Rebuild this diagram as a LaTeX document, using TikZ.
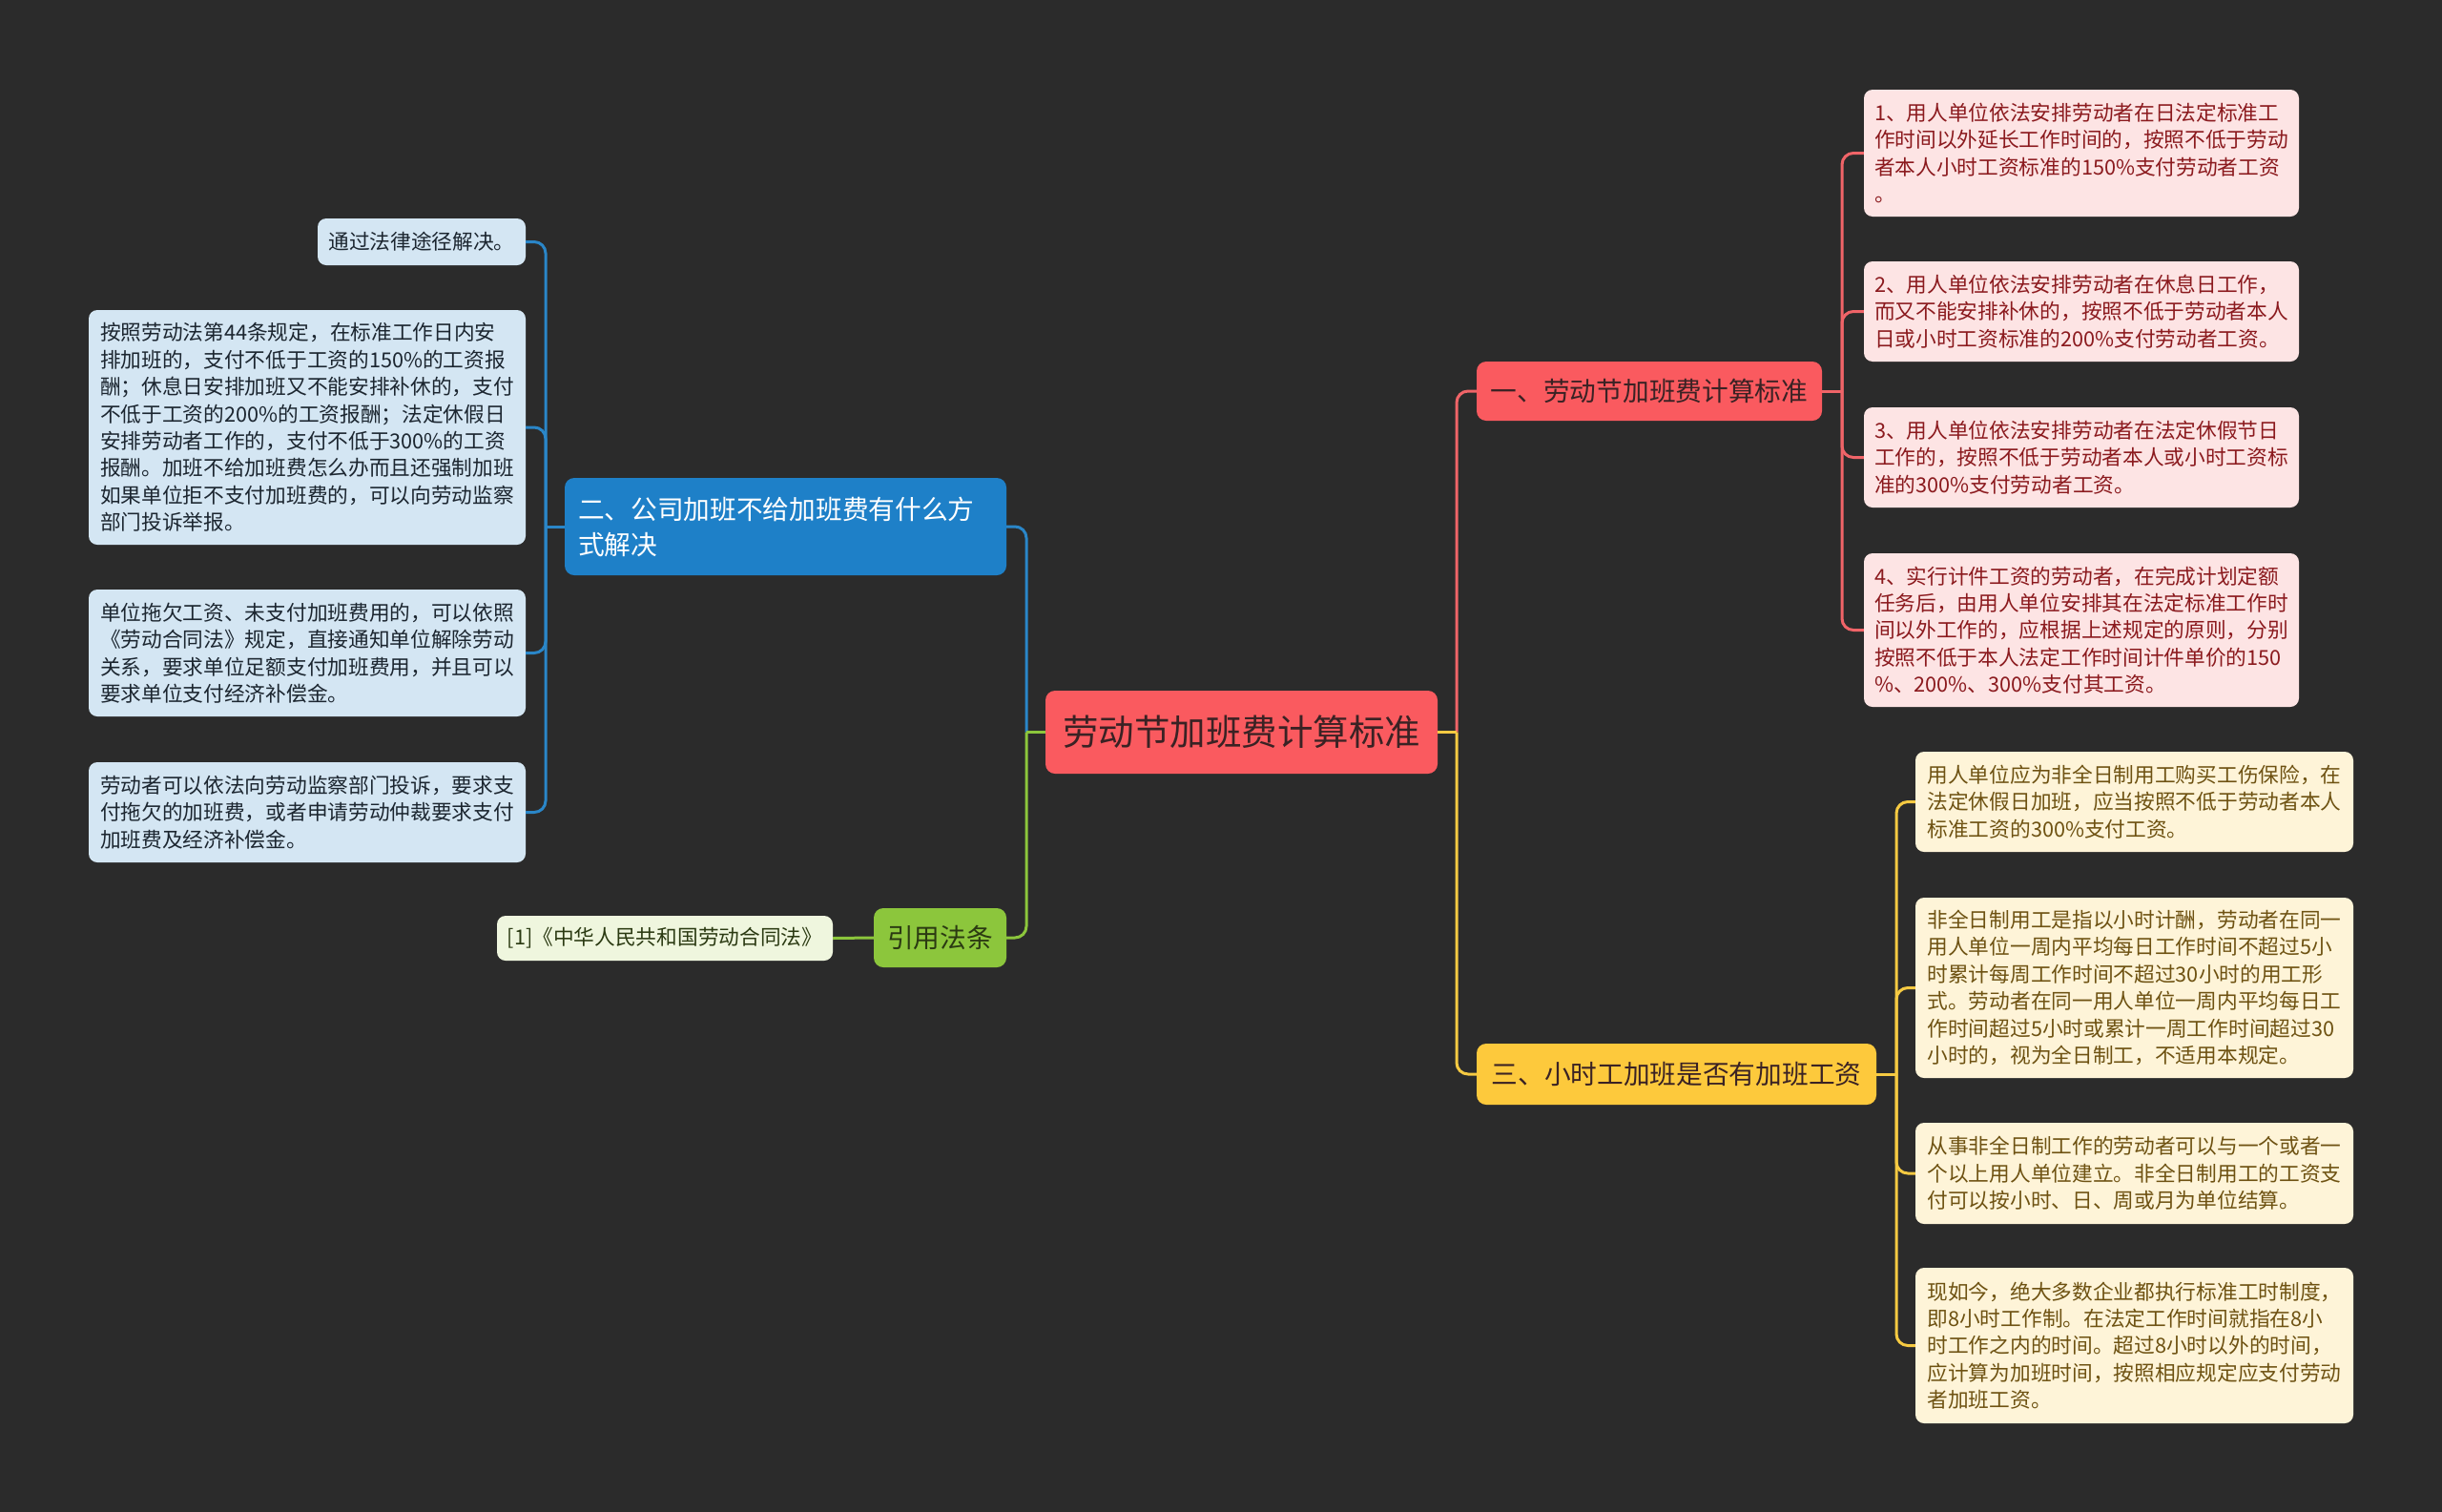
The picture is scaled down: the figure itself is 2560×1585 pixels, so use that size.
\documentclass[tikz,border=0pt]{standalone}
\usepackage{fontspec}
\setmainfont{Noto Sans CJK SC}
\usetikzlibrary{calc}
\definecolor{bgc}{HTML}{2B2B2B}
\definecolor{redc}{HTML}{FA5A5F}
\definecolor{redl}{HTML}{FDE4E4}
\definecolor{redt}{HTML}{8B1A1E}
\definecolor{redline}{HTML}{F06468}
\definecolor{yelc}{HTML}{FDC93C}
\definecolor{yell}{HTML}{FEF4D8}
\definecolor{yelt}{HTML}{6E5212}
\definecolor{yelline}{HTML}{F6CA42}
\definecolor{bluc}{HTML}{1E80C8}
\definecolor{blul}{HTML}{D4E6F3}
\definecolor{blut}{HTML}{1C2630}
\definecolor{bluline}{HTML}{2A86C8}
\definecolor{grnc}{HTML}{8CC63C}
\definecolor{grnl}{HTML}{EFF6DE}
\definecolor{grnt}{HTML}{2B3A12}
\definecolor{darkt}{HTML}{3A2224}
\tikzset{
  base/.style={rounded corners=9pt, inner sep=0pt, align=left},
  leaf/.style={base, font=\fontsize{21.7}{28.4}\selectfont},
  rleaf/.style={leaf, fill=redl, text=redt, minimum width=456pt},
  yleaf/.style={leaf, fill=yell, text=yelt, minimum width=459pt},
  bleaf/.style={leaf, fill=blul, text=blut, minimum width=458pt},
  branch/.style={base, rounded corners=10pt, font=\fontsize{27.7}{37}\selectfont},
  conn/.style={line width=3pt},
  rc/.style={rounded corners=12pt}
}
\begin{document}
\begin{tikzpicture}[x=1pt,y=-1pt]
\fill[bgc] (0,0) rectangle (2560,1585);
\useasboundingbox (0,0) rectangle (2560,1585);

% central
\node[base, rounded corners=10pt, fill=redc, text=darkt, font=\fontsize{37.5}{44}\selectfont, minimum width=411pt, minimum height=87pt] (c) at (1301.5,767.5) {劳动节加班费计算标准};

% branches
\node[branch, fill=redc, text=darkt, minimum width=362pt, minimum height=62pt] (b1) at (1729,410) {一、劳动节加班费计算标准};
\node[branch, fill=yelc, text=darkt, minimum width=419pt, minimum height=64pt] (b3) at (1757.5,1126) {三、小时工加班是否有加班工资};
\node[branch, fill=bluc, text=white, inner xsep=14pt, text width=435pt, minimum height=102pt] (b2) at (823.5,552) {二、公司加班不给加班费有什么方\\式解决};
\node[branch, fill=grnc, text=grnt, minimum width=139pt, minimum height=62pt] (bg) at (985.5,983) {引用法条};
\node[leaf, fill=grnl, text=grnt, minimum width=352pt, minimum height=47pt] (gl) at (697,983.5) {[1]《中华人民共和国劳动合同法》};

% red leaves
\node[rleaf, minimum height=133pt] (r1) at (2182,160.5) {1、用人单位依法安排劳动者在日法定标准工\\作时间以外延长工作时间的，按照不低于劳动\\者本人小时工资标准的150\%支付劳动者工资\\。};
\node[rleaf, minimum height=105pt] (r2) at (2182,326.5) {2、用人单位依法安排劳动者在休息日工作，\\而又不能安排补休的，按照不低于劳动者本人\\日或小时工资标准的200\%支付劳动者工资。};
\node[rleaf, minimum height=105pt] (r3) at (2182,479.5) {3、用人单位依法安排劳动者在法定休假节日\\工作的，按照不低于劳动者本人或小时工资标\\准的300\%支付劳动者工资。};
\node[rleaf, minimum height=161pt] (r4) at (2182,660.5) {4、实行计件工资的劳动者，在完成计划定额\\任务后，由用人单位安排其在法定标准工作时\\间以外工作的，应根据上述规定的原则，分别\\按照不低于本人法定工作时间计件单价的150\\\%、200\%、300\%支付其工资。};

% yellow leaves
\node[yleaf, minimum height=105pt] (y1) at (2237.5,840.5) {用人单位应为非全日制用工购买工伤保险，在\\法定休假日加班，应当按照不低于劳动者本人\\标准工资的300\%支付工资。};
\node[yleaf, minimum height=189pt] (y2) at (2237.5,1035.5) {非全日制用工是指以小时计酬，劳动者在同一\\用人单位一周内平均每日工作时间不超过5小\\时累计每周工作时间不超过30小时的用工形\\式。劳动者在同一用人单位一周内平均每日工\\作时间超过5小时或累计一周工作时间超过30\\小时的，视为全日制工，不适用本规定。};
\node[yleaf, minimum height=106pt] (y3) at (2237.5,1230) {从事非全日制工作的劳动者可以与一个或者一\\个以上用人单位建立。非全日制用工的工资支\\付可以按小时、日、周或月为单位结算。};
\node[yleaf, minimum height=163pt] (y4) at (2237.5,1410.5) {现如今，绝大多数企业都执行标准工时制度，\\即8小时工作制。在法定工作时间就指在8小\\时工作之内的时间。超过8小时以外的时间，\\应计算为加班时间，按照相应规定应支付劳动\\者加班工资。};

% blue leaves
\node[leaf, fill=blul, text=blut, minimum width=218pt, minimum height=49pt] (l1) at (442,253.5) {通过法律途径解决。};
\node[bleaf, minimum height=246pt] (l2) at (322,448) {按照劳动法第44条规定，在标准工作日内安\\排加班的，支付不低于工资的150\%的工资报\\酬；休息日安排加班又不能安排补休的，支付\\不低于工资的200\%的工资报酬；法定休假日\\安排劳动者工作的，支付不低于300\%的工资\\报酬。加班不给加班费怎么办而且还强制加班\\如果单位拒不支付加班费的，可以向劳动监察\\部门投诉举报。};
\node[bleaf, minimum height=133pt] (l3) at (322,684.5) {单位拖欠工资、未支付加班费用的，可以依照\\《劳动合同法》规定，直接通知单位解除劳动\\关系，要求单位足额支付加班费用，并且可以\\要求单位支付经济补偿金。};
\node[bleaf, minimum height=105pt] (l4) at (322,851.5) {劳动者可以依法向劳动监察部门投诉，要求支\\付拖欠的加班费，或者申请劳动仲裁要求支付\\加班费及经济补偿金。};

% junctions
\coordinate (mj) at (1527,767.5);
\coordinate (lj) at (1076,767.5);
\coordinate (rj) at (1931,410);
\coordinate (yj) at (1988,1126);
\coordinate (bj) at (572,552);

% main right
\draw[conn, redline, rc] (mj) |- (b1.west);
\draw[conn, yelline, rc] (mj) |- (b3.west);
\draw[conn, yelline] (c.east) -- (mj);
% main left
\draw[conn, bluline, rc] (lj) |- (b2.east);
\draw[conn, grnc, rc] (lj) |- (bg.east);
\draw[conn, grnc] (c.west) -- (lj);

% red leaves
\draw[conn, redline] (b1.east) -- (rj);
\foreach \n in {r1,r2,r3,r4} \draw[conn, redline, rc] (rj) |- (\n.west);
% yellow leaves
\draw[conn, yelline] (b3.east) -- (yj);
\foreach \n in {y1,y2,y3,y4} \draw[conn, yelline, rc] (yj) |- (\n.west);
% blue leaves
\draw[conn, bluline] (b2.west) -- (bj);
\foreach \n in {l1,l2,l3,l4} \draw[conn, bluline, rc] (bj) |- (\n.east);
% green
\draw[conn, grnc] (bg.west) -- (gl.east);
\end{tikzpicture}
\end{document}
